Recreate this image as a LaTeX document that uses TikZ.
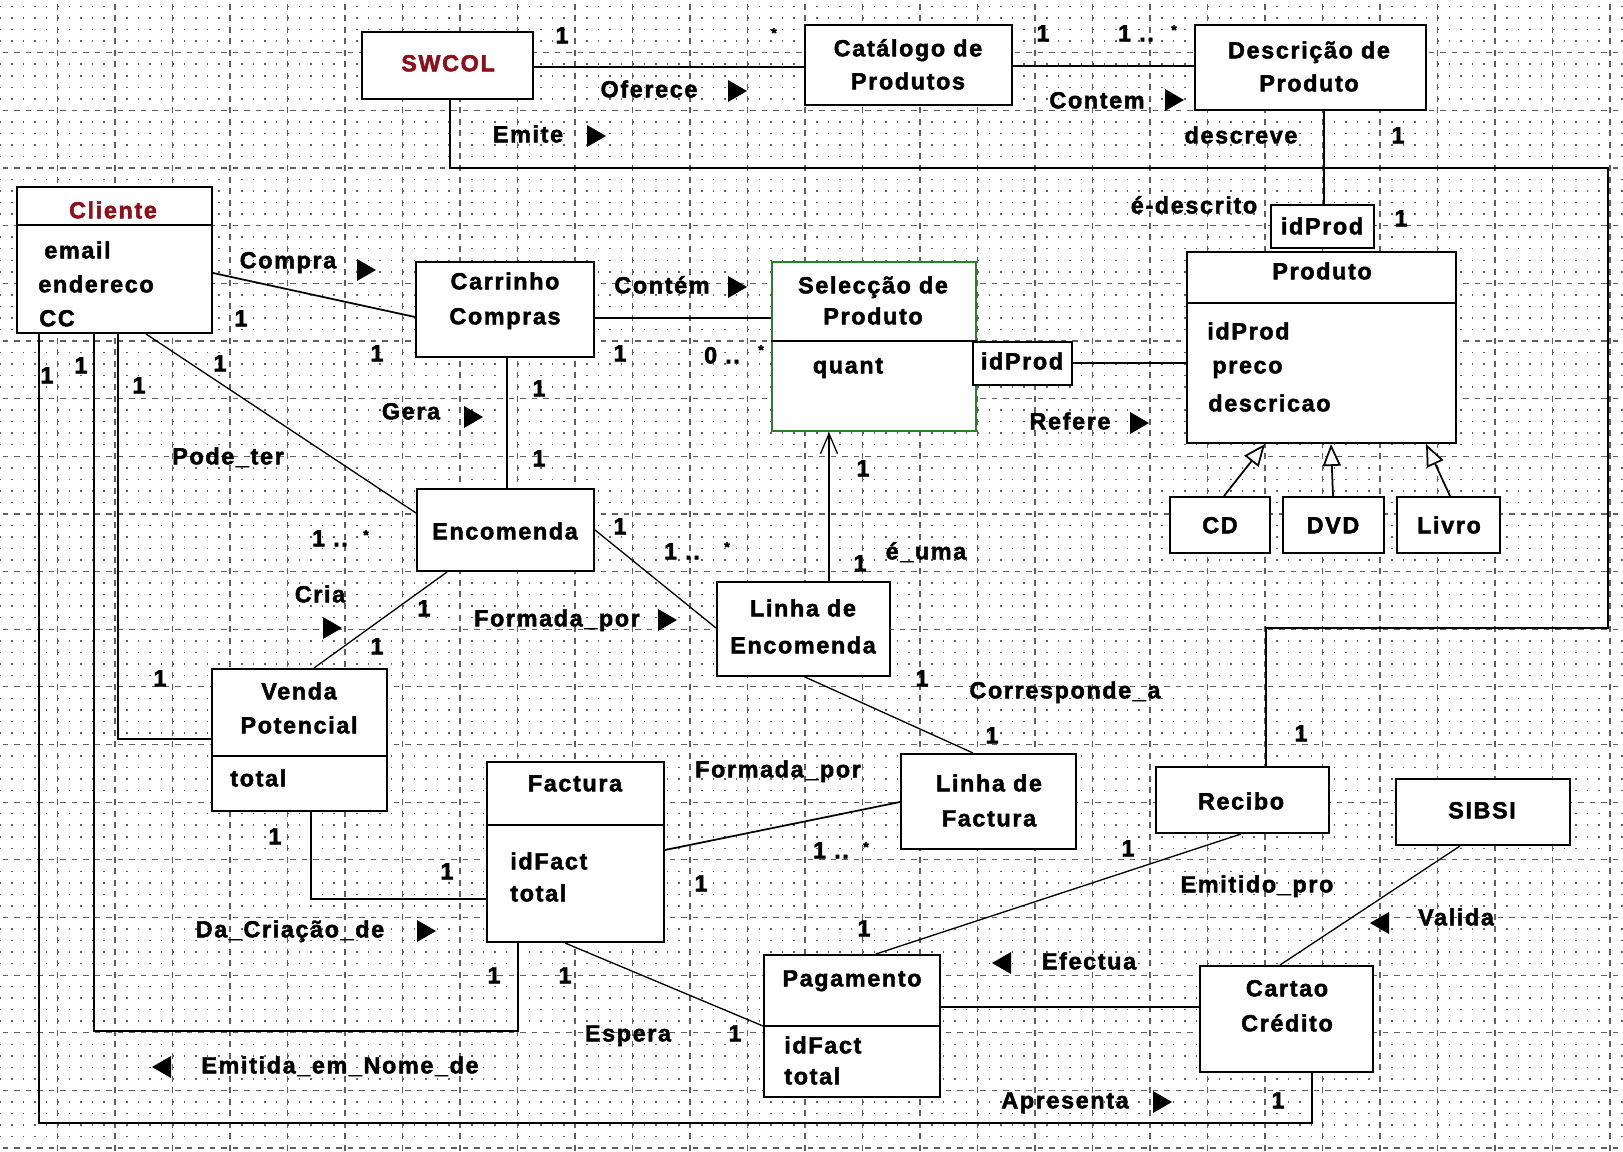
\documentclass[tikz,border=0pt]{standalone}
\usepackage{fontspec}
\setmainfont{Liberation Sans}
\newfontfamily\umlfont[LetterSpace=7,FakeBold=2]{Liberation Sans}
\usetikzlibrary{arrows.meta}
\definecolor{classred}{RGB}{140,15,25}
\definecolor{selgreen}{RGB}{40,130,40}
\definecolor{gridgray}{RGB}{95,95,95}

\begin{document}
\begin{tikzpicture}[x=0.02cm,y=-0.02cm,
  txt/.style={font=\umlfont\bfseries\fontsize{13.3}{16}\selectfont, inner sep=0pt, text height=0.72em, text depth=0pt},
  lt/.style={txt, anchor=west},
  star/.style={font=\umlfont\bfseries\fontsize{8}{9}\selectfont, inner sep=0pt},
  box/.style={draw, line width=1.15pt, fill=white, inner sep=0pt},
  sz/.style 2 args={minimum width=#1*0.02cm, minimum height=#2*0.02cm},
  conn/.style={line width=1pt},
  thinconn/.style={line width=0.75pt},
  divider/.style={line width=1.15pt},
  rtri/.pic={\fill (-9,-11) -- (10,0) -- (-9,11) -- cycle;},
  ltri/.pic={\fill (9,-11) -- (-10,0) -- (9,11) -- cycle;},
  gen/.style={conn, -{Triangle[open, length=0.44cm, width=0.36cm, fill=white]}},
  nav/.style={thinconn, -{Straight Barb[length=0.4cm, width=0.34cm]}}
]
\useasboundingbox (0,0) rectangle (1623,1152);
\fill[white] (0,0) rectangle (1623,1152);

% drawing grid: dotted minor rows, dashed major rows, dashed major columns
\foreach \r in {0,...,99} {
  \pgfmathsetmacro\yy{6.6+11.53*\r}
  \pgfmathtruncatemacro\mj{mod(\r+1,5)}
  \ifnum\mj=0
    \draw[gridgray, line width=0.025cm, dash pattern=on 0.11cm off 0.12cm, dash phase=0.17cm] (0,\yy) -- (1623,\yy);
  \else
    \draw[gridgray, line width=0.03cm, dash pattern=on 0.03cm off 0.2cm] (0,\yy) -- (1623,\yy);
  \fi
}
\foreach \c in {1,...,28} {
  \pgfmathsetmacro\xx{57.5*\c}
  \draw[gridgray, line width=0.025cm, dash pattern=on 0.12cm off 0.1106cm] (\xx,3.6) -- (\xx,1152);
}

% ---- class boxes ----
\node[box, sz={171}{67}] (swcol) at (447.5,65.5) {};
\node[box, sz={207}{80}] (catalogo) at (908.5,65) {};
\node[box, sz={231}{85}] (descricao) at (1310.5,67.5) {};
\node[box, sz={195}{146}] (cliente) at (114.5,260) {};
\node[box, sz={178}{95}] (carrinho) at (505,309.5) {};
\node[box, draw=selgreen, sz={204}{169}] (seleccao) at (874,346.5) {};
\node[box, sz={99}{43}] (idprodS) at (1022.5,363.5) {};
\node[box, sz={103}{43}] (idprodP) at (1322.5,226.5) {};
\node[box, sz={269}{191}] (produto) at (1321.5,347.5) {};
\node[box, sz={100}{56}] (cd) at (1220,525) {};
\node[box, sz={101}{56}] (dvd) at (1333.5,525) {};
\node[box, sz={103}{56}] (livro) at (1448.5,525) {};
\node[box, sz={177}{82}] (encomenda) at (505.5,530) {};
\node[box, sz={173}{94}] (linhaenc) at (803.5,629) {};
\node[box, sz={175}{142}] (venda) at (299.5,740) {};
\node[box, sz={177}{180}] (factura) at (575.5,852) {};
\node[box, sz={175}{95}] (linhafact) at (988.5,801.5) {};
\node[box, sz={173}{66}] (recibo) at (1242.5,800) {};
\node[box, sz={174}{66}] (sibsi) at (1483,812) {};
\node[box, sz={176}{142}] (pagamento) at (852,1026) {};
\node[box, sz={173}{106}] (cartao) at (1286.5,1019) {};

% compartment dividers
\draw[divider] (cliente.west |- 0,225) -- (cliente.east |- 0,225);
\draw[divider] (seleccao.west |- 0,341) -- (seleccao.east |- 0,341);
\draw[divider] (produto.west |- 0,303) -- (produto.east |- 0,303);
\draw[divider] (venda.west |- 0,756) -- (venda.east |- 0,756);
\draw[divider] (factura.west |- 0,825) -- (factura.east |- 0,825);
\draw[divider] (pagamento.west |- 0,1026) -- (pagamento.east |- 0,1026);

% ---- box texts ----
\node[txt, text=classred] (tswcol) at (448,65) {SWCOL};
\node[txt] (tcat1) at (908,50) {Catálogo de};
\node[txt] (tcat2) at (908,83) {Produtos};
\node[txt] (tdes1) at (1309,52) {Descrição de};
\node[txt] (tdes2) at (1309,85) {Produto};
\node[txt, text=classred] (tcli) at (113,212) {Cliente};
\node[lt] (tcli1) at (44,252) {email};
\node[lt] (tcli2) at (38,286) {endereco};
\node[lt] (tcli3) at (39,320) {CC};
\node[txt] (tcar1) at (505,283) {Carrinho};
\node[txt] (tcar2) at (505,318) {Compras};
\node[txt] (tsel1) at (873,287) {Selecção de};
\node[txt] (tsel2) at (873,318) {Produto};
\node[txt] (tsel3) at (848,367) {quant};
\node[txt] (tidS) at (1022,363) {idProd};
\node[txt] (tidP) at (1322,228) {idProd};
\node[txt] (tpro) at (1322,273) {Produto};
\node[lt] (tpro1) at (1207,333) {idProd};
\node[lt] (tpro2) at (1212,367) {preco};
\node[lt] (tpro3) at (1208,405) {descricao};
\node[txt] (tcd) at (1220,527) {CD};
\node[txt] (tdvd) at (1333,527) {DVD};
\node[txt] (tliv) at (1449,527) {Livro};
\node[txt] (tenc) at (505,533) {Encomenda};
\node[txt] (tle1) at (803,610) {Linha de};
\node[txt] (tle2) at (803,647) {Encomenda};
\node[txt] (tven1) at (299,693) {Venda};
\node[txt] (tven2) at (299,727) {Potencial};
\node[lt] (tven3) at (230,780) {total};
\node[txt] (tfac) at (575,785) {Factura};
\node[lt] (tfac1) at (510,863) {idFact};
\node[lt] (tfac2) at (510,895) {total};
\node[txt] (tlf1) at (989,785) {Linha de};
\node[txt] (tlf2) at (989,820) {Factura};
\node[txt] (trec) at (1241,803) {Recibo};
\node[txt] (tsib) at (1482,812) {SIBSI};
\node[txt] (tpag) at (852,980) {Pagamento};
\node[lt] (tpag1) at (784,1047) {idFact};
\node[lt] (tpag2) at (784,1078) {total};
\node[txt] (tcar3) at (1287,990) {Cartao};
\node[txt] (tcar4) at (1287,1025) {Crédito};

% ---- associations ----
\draw[conn] (swcol.east |- 0,67) -- (catalogo.west |- 0,67);
\draw[conn] (catalogo.east |- 0,66) -- (descricao.west |- 0,66);
\draw[conn] (swcol.south -| 450,0) -- (450,168) -- (1608,168) -- (1608,628)
  -- (1266,628) -- (recibo.north -| 1266,0);
\draw[conn] (descricao.south -| 1324,0) -- (idprodP.north -| 1324,0);
\draw[conn] (cliente.east |- 0,273) -- (carrinho.west |- 0,317);
\draw[conn] (carrinho.east |- 0,318) -- (seleccao.west |- 0,318);
\draw[conn] (carrinho.south -| 507,0) -- (encomenda.north -| 507,0);
\draw[thinconn] (cliente.south -| 146,0) -- (encomenda.west |- 0,513);
\draw[thinconn] (encomenda.east |- 0,530) -- (linhaenc.west |- 0,628);
\draw[thinconn] (encomenda.south -| 447,0) -- (venda.north -| 314,0);
\draw[nav] (linhaenc.north -| 829,0) -- (seleccao.south -| 829,0);
\draw[conn] (idprodS.east |- 0,363) -- (produto.west |- 0,363);
\draw[gen] (cd.north -| 1224,0) -- (produto.south -| 1265,0);
\draw[gen] (dvd.north -| 1333,0) -- (produto.south -| 1331,0);
\draw[gen] (livro.north -| 1450,0) -- (produto.south -| 1426,0);
\draw[thinconn] (linhaenc.south -| 805,0) -- (linhafact.north -| 973,0);
\draw[conn] (factura.east |- 0,850) -- (linhafact.west |- 0,802);
\draw[conn] (cliente.south -| 39,0) -- (39,1123) -- (1312,1123) -- (cartao.south -| 1312,0);
\draw[conn] (cliente.south -| 94,0) -- (94,1031) -- (518,1031) -- (factura.south -| 518,0);
\draw[conn] (cliente.south -| 118,0) -- (118,739) -- (venda.west |- 0,739);
\draw[conn] (venda.south -| 311,0) -- (311,899) -- (factura.west |- 0,899);
\draw[thinconn] (factura.south -| 565,0) -- (pagamento.west |- 0,1026);
\draw[thinconn] (recibo.south -| 1241,0) -- (pagamento.north -| 876,0);
\draw[thinconn] (sibsi.south -| 1460,0) -- (cartao.north -| 1280,0);
\draw[conn] (pagamento.east |- 0,1007) -- (cartao.west |- 0,1007);

% ---- association names with reading direction ----
\node[txt] (lofe) at (649,91) {Oferece};  \pic (aofe) at (737,91) {rtri};
\node[txt] (lemi) at (528,136) {Emite};   \pic (aemi) at (596,136) {rtri};
\node[txt] (lcon) at (1097,102) {Contem}; \pic (acon) at (1174,100) {rtri};
\node[txt] (ldes) at (1241,137) {descreve};
\node[txt] (lede) at (1194,207) {é-descrito};
\node[txt] (lcom) at (288,262) {Compra};  \pic (acom) at (366,270) {rtri};
\node[txt] (lcnt) at (662,287) {Contém};  \pic (acnt) at (737,287) {rtri};
\node[txt] (lger) at (411,413) {Gera};    \pic (ager) at (473,417) {rtri};
\node[txt] (lpod) at (228,458) {Pode\_ter};
\node[txt] (lref) at (1070,423) {Refere}; \pic (aref) at (1139,423) {rtri};
\node[txt] (luma) at (926,553) {é\_uma};
\node[txt] (lcri) at (320,596) {Cria};    \pic (acri) at (332,628) {rtri};
\node[txt] (lfp1) at (557,620) {Formada\_por}; \pic (afp1) at (667,620) {rtri};
\node[txt] (lcor) at (1065,692) {Corresponde\_a};
\node[txt] (lfp2) at (778,771) {Formada\_por};
\node[txt] (lepr) at (1257,886) {Emitido\_pro};
\node[txt] (ldac) at (290,931) {Da\_Criação\_de}; \pic (adac) at (426,931) {rtri};
\pic (aval) at (1380,923) {ltri}; \node[txt] (lval) at (1456,919) {Valida};
\pic (aefe) at (1002,963) {ltri}; \node[txt] (lefe) at (1089,963) {Efectua};
\node[txt] (lesp) at (628,1035) {Espera};
\pic (aemn) at (162,1067) {ltri}; \node[txt] (lemn) at (340,1067) {Emitida\_em\_Nome\_de};
\node[txt] (lapr) at (1065,1102) {Apresenta}; \pic (aapr) at (1162,1102) {rtri};

% ---- multiplicities ----
\node[txt] (m1) at (562,37) {1};    \node[star] (s1) at (774,33) {*};
\node[txt] (m2) at (1043,35) {1};   \node[txt] (m3) at (1136,35) {1 ..}; \node[star] (s3) at (1174,30) {*};
\node[txt] (m4) at (1398,137) {1};
\node[txt] (m5) at (1401,220) {1};
\node[txt] (m6) at (241,320) {1};
\node[txt] (m7) at (377,355) {1};
\node[txt] (m8) at (620,355) {1};
\node[txt] (m9) at (722,357) {0 ..}; \node[star] (s9) at (761,350) {*};
\node[txt] (m10) at (47,377) {1};
\node[txt] (m11) at (81,367) {1};
\node[txt] (m12) at (139,387) {1};
\node[txt] (m13) at (220,365) {1};
\node[txt] (m14) at (539,390) {1};
\node[txt] (m15) at (539,460) {1};
\node[txt] (m16) at (863,470) {1};
\node[txt] (m17) at (330,540) {1 ..}; \node[star] (s17) at (366,535) {*};
\node[txt] (m18) at (620,528) {1};
\node[txt] (m19) at (682,553) {1 ..}; \node[star] (s19) at (727,547) {*};
\node[txt] (m20) at (860,565) {1};
\node[txt] (m21) at (424,610) {1};
\node[txt] (m22) at (377,648) {1};
\node[txt] (m23) at (160,680) {1};
\node[txt] (m24) at (922,680) {1};
\node[txt] (m25) at (992,737) {1};
\node[txt] (m26) at (1301,735) {1};
\node[txt] (m27) at (275,838) {1};
\node[txt] (m28) at (447,873) {1};
\node[txt] (m29) at (831,852) {1 ..}; \node[star] (s29) at (866,847) {*};
\node[txt] (m30) at (1128,850) {1};
\node[txt] (m31) at (701,885) {1};
\node[txt] (m32) at (864,930) {1};
\node[txt] (m33) at (494,977) {1};
\node[txt] (m34) at (565,977) {1};
\node[txt] (m35) at (735,1035) {1};
\node[txt] (m36) at (1278,1102) {1};
\end{tikzpicture}
\end{document}
